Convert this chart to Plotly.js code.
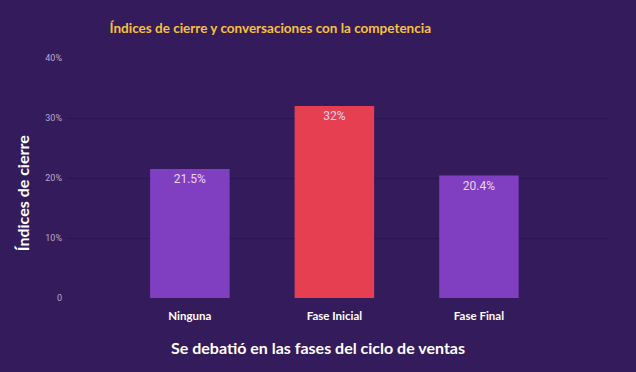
<!DOCTYPE html>
<html>
<head>
<meta charset="utf-8">
<script src="https://cdn.plot.ly/plotly-3.0.1.min.js"></script>
<style>html,body{margin:0;padding:0;background:#341b5b;}#chart{width:636px;height:372px;}</style>
</head>
<body>
<div id="chart"></div>
<script>
const categories = ["Ninguna", "Fase Inicial", "Fase Final"];
const values = [21.5, 32, 20.4];
const valueLabels = ["21.5%", "32%", "20.4%"];
const barColors = ["#7f3fc0", "#e63f52", "#7f3fc0"];
const tickValues = [0, 10, 20, 30, 40];
const tickLabels = ["0", "10%", "20%", "30%", "40%"];

const trace = {
  type: "bar",
  x: categories,
  y: values,
  text: valueLabels,
  textposition: "inside",
  insidetextanchor: "end",
  textfont: {family: "Roboto", size: 12, color: "#ecd3f0"},
  marker: {color: barColors},
  hoverinfo: "none"
};

const layout = {
  width: 636, height: 372,
  paper_bgcolor: "#341b5b",
  plot_bgcolor: "#341b5b",
  margin: {l: 67, r: 29, t: 58, b: 74},
  bargap: 0.45,
  showlegend: false,
  title: {
    text: "<b>Índices de cierre y conversaciones con la competencia</b>",
    font: {family: "Lato", size: 13.5, color: "#f7c23c"},
    x: 0.425, xref: "container", xanchor: "center",
    y: 0.925, yref: "container", yanchor: "middle"
  },
  xaxis: {
    range: [-0.85, 2.886],
    showgrid: false, zeroline: false, showline: false,
    ticks: "", ticklabelstandoff: 9,
    tickfont: {family: "Lato", size: 11.5, color: "#ffffff", weight: 700}
  },
  yaxis: {
    range: [0, 40],
    tickvals: tickValues,
    ticktext: tickLabels,
    showgrid: true, gridcolor: "#2b1550", gridwidth: 1,
    zeroline: false, showline: false,
    ticks: "", ticklabelstandoff: 4,
    tickfont: {family: "Roboto", size: 9, color: "#b9a9cf"}
  },
  annotations: [
    {
      text: "<b>Se debatió en las fases del ciclo de ventas</b>",
      font: {family: "Lato", size: 16, color: "#ffffff"},
      xref: "paper", yref: "paper", x: 0.465, y: -0.208,
      xanchor: "center", yanchor: "middle", showarrow: false
    },
    {
      text: "<b>Índices de cierre</b>",
      font: {family: "Lato", size: 16, color: "#ffffff"},
      textangle: -90,
      xref: "paper", yref: "paper", x: -0.083, y: 0.4375,
      xanchor: "center", yanchor: "middle", showarrow: false
    }
  ]
};

Plotly.newPlot("chart", [trace], layout, {displayModeBar: false, staticPlot: true});
</script>
</body>
</html>
